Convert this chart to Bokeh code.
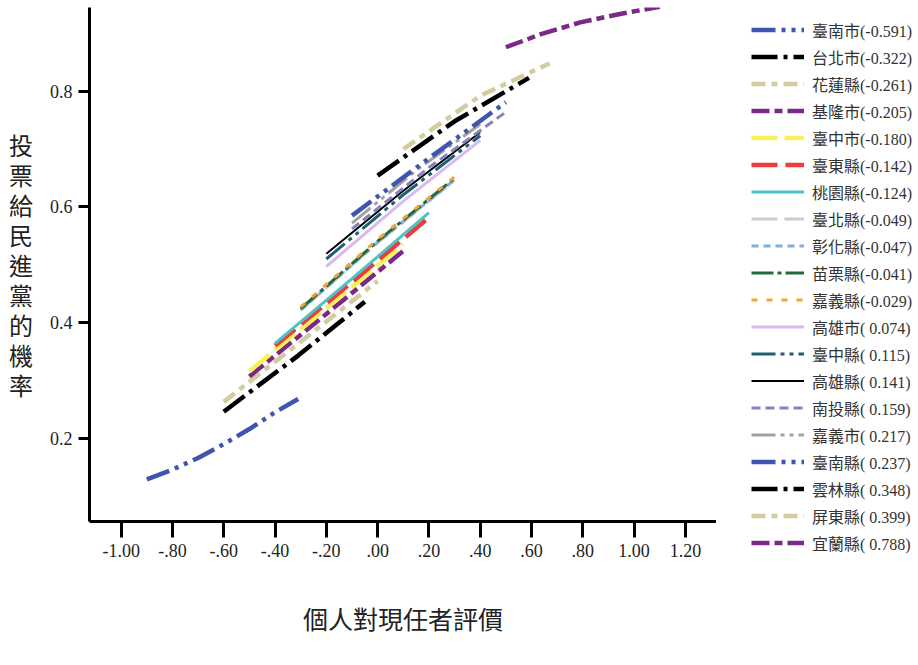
from bokeh.plotting import figure
from bokeh.layouts import row
from bokeh.models import Range1d, Legend, LegendItem, FixedTicker
from bokeh.embed import file_html
from bokeh.resources import INLINE

# County names and their random-intercept estimates (legend order)
counties = ["臺南市", "台北市", "花蓮縣", "基隆市", "臺中市", "臺東縣", "桃園縣",
            "臺北縣", "彰化縣", "苗栗縣", "嘉義縣", "高雄市", "臺中縣", "高雄縣",
            "南投縣", "嘉義市", "臺南縣", "雲林縣", "屏東縣", "宜蘭縣"]
effects = ["-0.591", "-0.322", "-0.261", "-0.205", "-0.180", "-0.142", "-0.124",
           "-0.049", "-0.047", "-0.041", "-0.029", " 0.074", " 0.115", " 0.141",
           " 0.159", " 0.217", " 0.237", " 0.348", " 0.399", " 0.788"]

# Predicted probability curves: evaluation (x) vs. probability of voting DPP (y)
curve_x = [
    [-0.90, -0.80, -0.70, -0.60, -0.50, -0.40, -0.31],
    [-0.60, -0.31, -0.05],
    [-0.60, -0.30, 0.00],
    [-0.50, -0.20, 0.10],
    [-0.50, -0.20, 0.10],
    [-0.40, -0.10, 0.20],
    [-0.40, -0.10, 0.20],
    [-0.30, 0.00, 0.30],
    [-0.30, 0.00, 0.30],
    [-0.30, 0.00, 0.30],
    [-0.30, 0.00, 0.30],
    [-0.20, 0.10, 0.40],
    [-0.20, 0.10, 0.40],
    [-0.20, 0.10, 0.40],
    [-0.10, 0.20, 0.50],
    [-0.10, 0.15, 0.40],
    [-0.10, 0.20, 0.50],
    [0.00, 0.30, 0.59],
    [0.10, 0.40, 0.67],
    [0.50, 0.64, 0.79, 0.95, 1.10],
]
curve_y = [
    [0.129, 0.146, 0.166, 0.190, 0.216, 0.245, 0.268],
    [0.246, 0.343, 0.436],
    [0.263, 0.367, 0.472],
    [0.307, 0.415, 0.524],
    [0.316, 0.425, 0.536],
    [0.360, 0.470, 0.582],
    [0.364, 0.476, 0.590],
    [0.421, 0.538, 0.646],
    [0.422, 0.539, 0.647],
    [0.424, 0.541, 0.650],
    [0.427, 0.544, 0.652],
    [0.497, 0.610, 0.715],
    [0.510, 0.621, 0.723],
    [0.519, 0.628, 0.729],
    [0.562, 0.668, 0.764],
    [0.572, 0.663, 0.743],
    [0.585, 0.684, 0.781],
    [0.654, 0.748, 0.823],
    [0.700, 0.792, 0.848],
    [0.876, 0.899, 0.919, 0.934, 0.946],
]

x_ticks = [-1.0, -0.8, -0.6, -0.4, -0.2, 0.0, 0.2, 0.4, 0.6, 0.8, 1.0, 1.2]
x_tick_labels = ["-1.00", "-.80", "-.60", "-.40", "-.20", ".00", ".20", ".40",
                 ".60", ".80", "1.00", "1.20"]
y_ticks = [0.2, 0.4, 0.6, 0.8]
y_tick_labels = ["0.2", "0.4", "0.6", "0.8"]

x_title = "個人對現任者評價"
y_title = "投票給民進黨的機率"

# line styles: (color, width, dash)
BLUE, BLACK, KHAKI, PURPLE = "#3F55AE", "#000000", "#D3CC9E", "#7A2A86"
styles = [
    (BLUE, 4.5, "24 6 4 6 4 6"),
    (BLACK, 4.5, "26 6 4 6"),
    (KHAKI, 4.5, "14 6 6 6"),
    (PURPLE, 4.5, "18 5 8 5"),
    ("#F9F15A", 4.5, "26 7"),
    ("#EE3B3B", 4.5, "26 8"),
    ("#4CC3C8", 3, "solid"),
    ("#CCCCCC", 3, "26 7"),
    ("#7FAEDF", 3, "7 5"),
    ("#236B3A", 3, "22 4 4 4"),
    ("#F6A23A", 3, "6 9"),
    ("#DAB8F0", 3, "solid"),
    ("#1D5F76", 3, "24 5 4 5 4 5"),
    (BLACK, 2, "solid"),
    ("#8383BD", 3, "9 5"),
    ("#A3A3A3", 3, "24 5 4 5 4 5"),
    (BLUE, 4.5, "24 6 4 6 4 6"),
    (BLACK, 4.5, "26 6 4 6"),
    (KHAKI, 4.5, "14 6 6 6"),
    (PURPLE, 4.5, "18 5 8 5"),
]

# ---- main chart ----
p = figure(width=716, height=665, output_backend="svg", toolbar_location=None,
           x_range=Range1d(-1.1235, 1.3212), y_range=Range1d(0.0562, 0.9447),
           min_border_left=89, min_border_right=0, min_border_top=7,
           min_border_bottom=144)
p.outline_line_color = None
p.grid.visible = False
p.frame_align = False

p.xaxis.ticker = FixedTicker(ticks=x_ticks)
p.xaxis.major_label_overrides = dict(zip(x_ticks, x_tick_labels))
p.yaxis.ticker = FixedTicker(ticks=y_ticks)
p.yaxis.major_label_overrides = dict(zip(y_ticks, y_tick_labels))
for ax in (p.xaxis[0], p.yaxis[0]):
    ax.axis_line_width = 3
    ax.axis_line_color = "black"
    ax.major_tick_line_width = 3
    ax.major_tick_line_color = "black"
    ax.major_tick_in = 0
    ax.minor_tick_line_color = None
    ax.major_label_text_font = "Liberation Serif"
    ax.major_label_text_font_size = "18px"
    ax.major_label_text_color = "#222222"
    ax.major_label_standoff = 6
    ax.axis_label_text_font = "Noto Sans CJK TC"
    ax.axis_label_text_font_style = "normal"
    ax.axis_label_text_color = "#222222"
p.xaxis.major_tick_out = 16
p.yaxis.major_tick_out = 11

# axis titles; the y title is stacked one character per line
p.xaxis.axis_label = x_title
p.xaxis.axis_label_text_font_size = "25px"
p.xaxis.axis_label_standoff = 40
p.yaxis.axis_label = "\n".join(y_title)
p.yaxis.axis_label_orientation = "horizontal"
p.yaxis.axis_label_text_font_size = "24px"
p.yaxis.axis_label_text_line_height = 0.86
p.yaxis.axis_label_standoff = 14

for xs, ys, (col, w, dash) in zip(curve_x, curve_y, styles):
    p.line(xs, ys, line_color=col, line_width=w, line_dash=dash)

# ---- legend panel: same series and styles, view kept away from the data ----
lg = figure(width=202, height=665, output_backend="svg", toolbar_location=None,
            x_range=Range1d(10, 11), y_range=Range1d(10, 11),
            x_axis_type=None, y_axis_type=None, min_border=0)
lg.outline_line_color = None
lg.grid.visible = False
lg.frame_align = False

items = []
for name, eff, xs, ys, (col, w, dash) in zip(counties, effects, curve_x, curve_y, styles):
    r = lg.line(xs, ys, line_color=col, line_width=w, line_dash=dash)
    items.append(LegendItem(label=f"{name}({eff})", renderers=[r]))

legend = Legend(items=items, location=(35, 109), glyph_width=53, glyph_height=27,
                label_height=27, spacing=0, padding=0, margin=0, label_standoff=8,
                border_line_color=None, background_fill_alpha=0,
                label_text_font="Liberation Serif, Noto Sans CJK TC",
                label_text_font_size="16px", label_text_color="#333333")
lg.add_layout(legend)

layout = row(p, lg)
open("out.html", "w").write(file_html(layout, INLINE))
